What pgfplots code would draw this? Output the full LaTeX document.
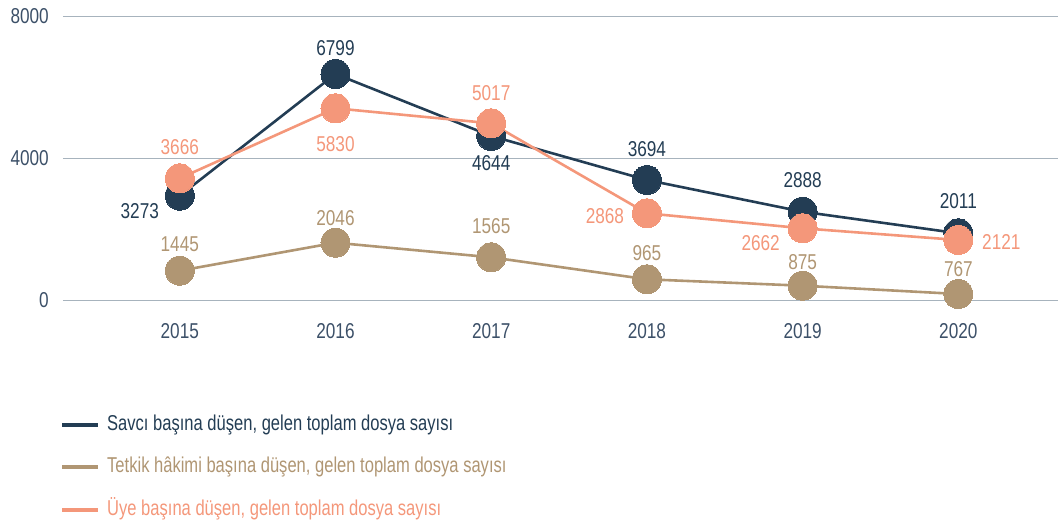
\documentclass[border=0pt]{standalone}
\usepackage{pgfplots}
\pgfplotsset{compat=1.18}
\usepackage{pgfplotstable}
\usepackage{fontspec}
\setmainfont{Liberation Sans}[FakeStretch=0.80]
\newfontfamily\legfont{Liberation Sans}[FakeStretch=0.77]
\definecolor{cnavy}{HTML}{233D54}
\definecolor{ctan}{HTML}{B09673}
\definecolor{csalmon}{HTML}{F4977A}
\definecolor{ctick}{HTML}{3C5068}
\definecolor{cgrid}{HTML}{A7B3BD}

\pgfplotstableread{
x y label dx dy
2015 2952 3273 -40 -15
2016 6380 6799 0 26
2017 4634 4644 0 -27
2018 3394 3694 0 31
2019 2501 2888 0 32
2020 1893 2011 0 32
}\savci
\pgfplotstableread{
x y label dx dy
2015 840 1445 0 26
2016 1628 2046 0 25
2017 1217 1565 0 31
2018 597 965 0 26
2019 417 875 0 24
2020 183 767 0 25
}\tetkik
\pgfplotstableread{
x y label dx dy
2015 3442 3666 0 31
2016 5414 5830 0 -36
2017 4991 5017 0 30
2018 2456 2868 -42 -3
2019 2034 2662 -42 -15
2020 1704 2121 43 -2
}\uye

\pgfplotsset{
  lbl/.style={line width=2.6pt, mark=*, mark size=14.5pt,
    mark options={fill=#1, draw=#1, line width=0pt},
    color=#1,
    point meta=explicit symbolic,
    visualization depends on={\thisrow{dx} \as \mydx},
    visualization depends on={\thisrow{dy} \as \mydy},
    nodes near coords,
    nodes near coords style={anchor=center, inner sep=0pt, xshift=\mydx, yshift=\mydy, text=#1}},
}

\begin{document}
\begin{tikzpicture}[font=\fontsize{21.5}{25}\selectfont]
\useasboundingbox (-63pt,-227.5pt) rectangle (995pt,300.5pt);
\begin{axis}[
  at={(0,0)}, anchor=south west,
  scale only axis, width=995pt, height=284pt,
  xmin=2014.25, xmax=2020.64, ymin=0, ymax=8000,
  clip=false,
  axis line style={draw=none},
  major tick length=0pt,
  xtick={2015,2016,2017,2018,2019,2020},
  xticklabels={2015,2016,2017,2018,2019,2020},
  ytick={0,4000,8000},
  yticklabels={0,4000,8000},
  ymajorgrids,
  grid style={cgrid, line width=1.2pt},
  xticklabel style={anchor=center, inner sep=0pt, yshift=-30.5pt, text=ctick},
  yticklabel style={anchor=east, inner sep=0pt, xshift=-14pt, text=ctick},
  legend style={at={(0,0)}, anchor=north west, xshift=-3pt, yshift=-114pt,
    draw=none, fill=none, inner sep=0pt, row sep=22.5pt,
    font=\legfont\fontsize{21.5}{25}\selectfont,
    nodes={inner sep=0pt, text height=15.5pt, text depth=4.5pt}},
  legend cell align=left,
  legend image code/.code={\draw[mark=none, line width=4pt] (0pt,0pt) -- (36pt,0pt);},
  /tikz/every odd column/.append style={column sep=7pt},
]
\addplot[lbl=cnavy] table[x=x, y=y, meta=label] {\savci};
\addlegendentry{\textcolor{cnavy}{Savcı başına düşen, gelen toplam dosya sayısı}}
\addplot[lbl=ctan] table[x=x, y=y, meta=label] {\tetkik};
\addlegendentry{\textcolor{ctan}{Tetkik hâkimi başına düşen, gelen toplam dosya sayısı}}
\addplot[lbl=csalmon] table[x=x, y=y, meta=label] {\uye};
\addlegendentry{\textcolor{csalmon}{Üye başına düşen, gelen toplam dosya sayısı}}
\end{axis}
\end{tikzpicture}
\end{document}
